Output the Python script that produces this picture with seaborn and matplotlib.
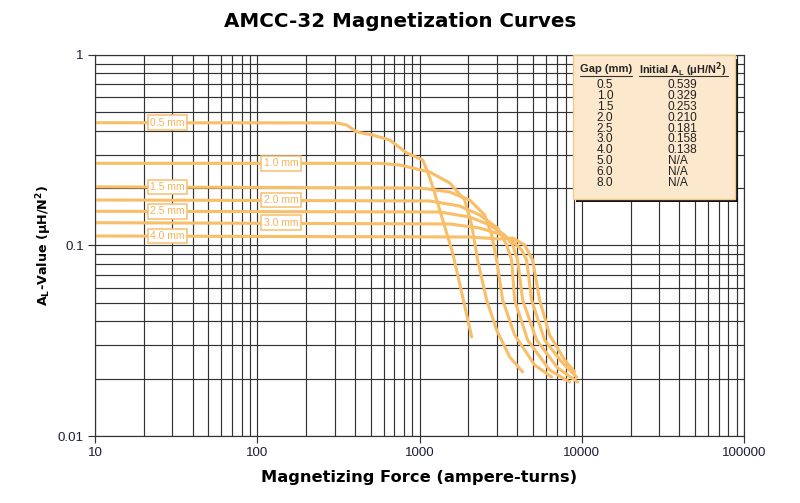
import numpy as np
import pandas as pd
import matplotlib
matplotlib.use("Agg")
import matplotlib.pyplot as plt
import seaborn as sns
from matplotlib.patches import Rectangle

# ---- data ----
gaps = ["0.5 mm", "1.0 mm", "1.5 mm", "2.0 mm", "2.5 mm", "3.0 mm", "4.0 mm"]

h_05 = [10, 309, 356, 410, 515, 655, 834, 1046, 1123, 1206, 1390, 1601, 1845, 2096]
al_05 = [0.441, 0.440, 0.429, 0.394, 0.380, 0.358, 0.306, 0.281, 0.243, 0.2035, 0.1361, 0.0913, 0.0537, 0.0331]

h_10 = [10, 569, 755, 1156, 1535, 1898, 2096, 2282, 2593, 2988, 3593, 4320]
al_10 = [0.270, 0.270, 0.2646, 0.243, 0.2129, 0.1733, 0.1281, 0.0839, 0.0517, 0.0360, 0.0260, 0.0217]

h_15 = [10, 1003, 1535, 2037, 2521, 2784, 2988, 3253, 3857, 5120, 6517]
al_15 = [0.2032, 0.2003, 0.1909, 0.1733, 0.1446, 0.1135, 0.0839, 0.0517, 0.0339, 0.0236, 0.0204]

h_20 = [10, 1156, 1768, 2348, 3030, 3443, 3696, 3857, 4637, 6336, 8410]
al_20 = [0.1733, 0.1713, 0.1612, 0.1446, 0.1235, 0.1006, 0.0839, 0.0517, 0.0319, 0.0222, 0.0192]

h_25 = [10, 1332, 2037, 2706, 3346, 3749, 4024, 4320, 5268, 7096, 9422]
al_25 = [0.1512, 0.1499, 0.1411, 0.1281, 0.1135, 0.1006, 0.0839, 0.0517, 0.0319, 0.0228, 0.0192]

h_30 = [10, 1535, 2348, 3118, 3696, 4259, 4572, 4909, 5902, 7509, 9290]
al_30 = [0.1317, 0.1297, 0.1235, 0.1149, 0.1069, 0.0947, 0.0839, 0.0517, 0.0319, 0.0245, 0.0204]

h_40 = [10, 2037, 3118, 3749, 4444, 4977, 5497, 6336, 7834, 9032]
al_40 = [0.1122, 0.1108, 0.1081, 0.1095, 0.1006, 0.0839, 0.0517, 0.0339, 0.0251, 0.0217]

label_x = [28, 140, 28, 140, 28, 140, 28]
label_y = [0.441, 0.270, 0.2032, 0.1733, 0.1512, 0.1317, 0.1122]

table_gap = ["0.5", "1.0", "1.5", "2.0", "2.5", "3.0", "4.0", "5.0", "6.0", "8.0"]
table_al = ["0.539", "0.329", "0.253", "0.210", "0.181", "0.158", "0.138", "N/A", "N/A", "N/A"]

x_ticks = [10, 100, 1000, 10000, 100000]
x_ticklabels = ["10", "100", "1000", "10000", "100000"]
y_ticks = [0.01, 0.1, 1]
y_ticklabels = ["0.01", "0.1", "1"]

# ---- build long table ----
series = [(h_05, al_05), (h_10, al_10), (h_15, al_15), (h_20, al_20),
          (h_25, al_25), (h_30, al_30), (h_40, al_40)]
rows = []
for g, (hs, als) in zip(gaps, series):
    for h, a in zip(hs, als):
        rows.append({"gap": g, "H": h, "AL": a})
df = pd.DataFrame(rows)

sns.set_theme(style="white")
plt.rcParams["font.family"] = ["DejaVu Sans"]

LINE = "#F8BE68"
fig = plt.figure(figsize=(8, 5.03), dpi=100)
ax = fig.add_axes([0.11875, 0.1332, 0.8113, 0.7575])

sns.lineplot(data=df, x="H", y="AL", hue="gap", units="gap", estimator=None,
             sort=False, palette=[LINE] * len(gaps), linewidth=2.2,
             legend=False, ax=ax, solid_joinstyle="round", solid_capstyle="round")

ax.set_xscale("log")
ax.set_yscale("log")
ax.set_xlim(10, 100000)
ax.set_ylim(0.01, 1)

ax.grid(True, which="both", color="#333333", linewidth=0.85)
ax.set_axisbelow(True)
for s in ax.spines.values():
    s.set_color("#333333")
    s.set_linewidth(0.85)

ax.set_xticks(x_ticks)
ax.set_xticklabels(x_ticklabels)
ax.set_yticks(y_ticks)
ax.set_yticklabels(y_ticklabels)
ax.tick_params(axis="both", which="major", length=5, width=0.85, color="#333333",
               labelsize=9.6, labelcolor="#1c1c3c", pad=3, bottom=True, left=True)
ax.tick_params(axis="both", which="minor", length=0)
for lbl in ax.get_xticklabels() + ax.get_yticklabels():
    lbl.set_family("Liberation Sans")

# curve labels
for g, lx, ly in zip(gaps, label_x, label_y):
    ax.text(lx, ly, g, ha="center", va="center", fontsize=7.5, color="#F3B458",
            family="Liberation Sans",
            bbox=dict(boxstyle="square,pad=0.22", fc="white", ec="#F5BE70", lw=1.1))

ax.set_xlabel("Magnetizing Force (ampere-turns)", fontsize=11.7, fontweight="bold",
              labelpad=8, color="black")
ax.set_ylabel(r"$\mathbf{A_L}$-Value ($\mathbf{\mu}$H/N$^\mathbf{2}$)", fontsize=9.2,
              fontweight="bold", labelpad=3, color="black")

fig.text(0.5, 0.957, "AMCC-32 Magnetization Curves", ha="center", va="center",
         fontsize=14.3, fontweight="bold", color="black")

# table box
W, Hh = 800.0, 503.0
def fx(px):
    return px / W
def fy(py):
    return 1 - py / Hh
shadow = Rectangle((fx(575.5), fy(202)), fx(738) - fx(575.5), fy(59) - fy(202),
                   transform=fig.transFigure, fc="#111111", ec="none", zorder=5)
fig.add_artist(shadow)
box = Rectangle((fx(572.5), fy(199)), fx(735) - fx(572.5), fy(55.5) - fy(199),
                transform=fig.transFigure, fc="#FCE8CC", ec="#F3C98A", lw=1.0, zorder=6)
fig.add_artist(box)
fig.text(fx(580), fy(69.5), "Gap (mm)", ha="left", va="center", fontsize=8.0,
         fontweight="bold", family="Liberation Sans", zorder=7)
fig.text(fx(639), fy(69.5), r"Initial A$_\mathregular{L}$ ($\mathregular{\mu}$H/N$^\mathbf{2}$)",
         ha="left", va="center", fontsize=7.8, fontweight="bold",
         family="Liberation Sans", zorder=7)
fig.add_artist(plt.Line2D([fx(580), fx(632)], [fy(76), fy(76)], transform=fig.transFigure,
                          color="#333333", lw=0.8, zorder=7))
fig.add_artist(plt.Line2D([fx(639), fx(728)], [fy(76), fy(76)], transform=fig.transFigure,
                          color="#333333", lw=0.8, zorder=7))
for i, (g, a) in enumerate(zip(table_gap, table_al)):
    py = 85.5 + i * 10.8
    fig.text(fx(605), fy(py), g, ha="center", va="center", fontsize=8.6,
             family="Liberation Sans", color="#222222", zorder=7)
    fig.text(fx(668), fy(py), a, ha="left", va="center", fontsize=8.6,
             family="Liberation Sans", color="#222222", zorder=7)

fig.savefig("out.png", dpi=100, facecolor="white")
